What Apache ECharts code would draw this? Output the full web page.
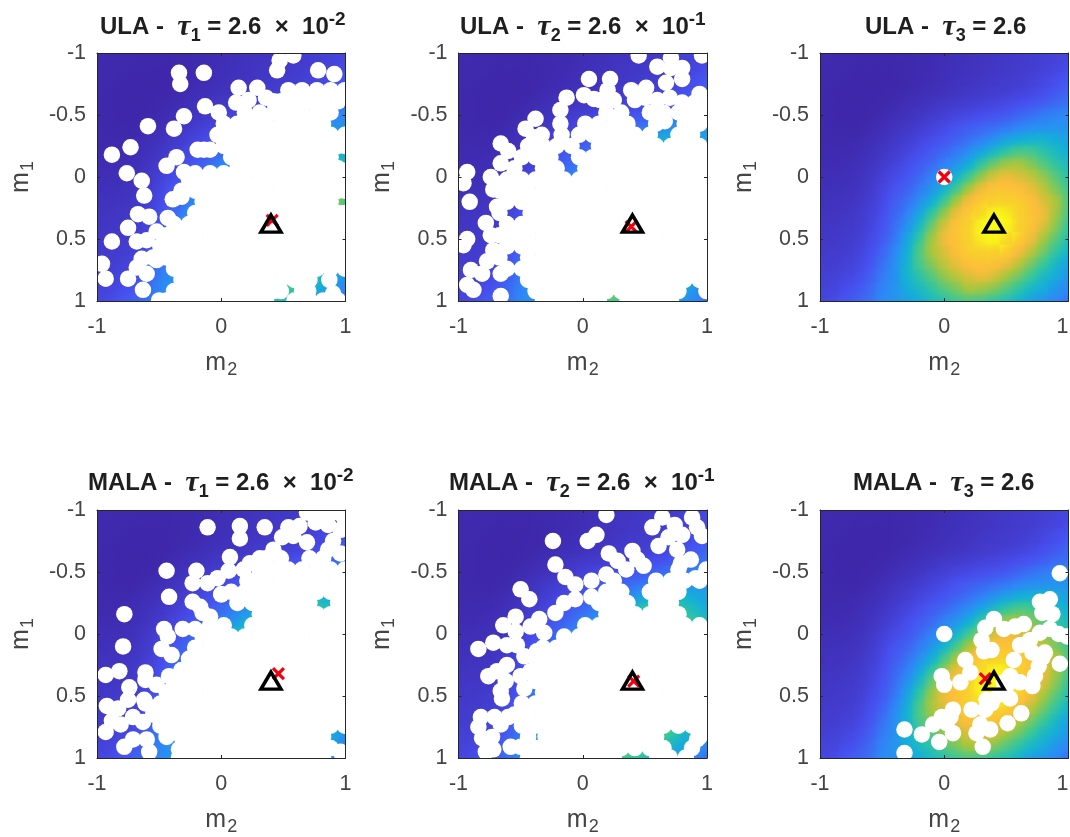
<!DOCTYPE html>
<html><head><meta charset="utf-8">
<style>html,body{margin:0;padding:0;background:#fff}#c{width:1070px;height:837px}</style>
<script src="https://cdn.jsdelivr.net/npm/echarts@6/dist/echarts.min.js"></script>
</head><body><div id="c"></div>
<script>
// density, percent of colour range; rows m1=-1..1, columns m2=-1..1, step 0.1
const densityField=[
[1.5,1.2,1,.8,.7,.7,.8,1,1.3,1.7,2.2,2.8,3.4,4,4.6,5.2,5.8,6.5,7.3,8.2,9.2],
[1.2,1.1,.8,.6,.5,.5,.6,.9,1.3,1.8,2.4,3,3.6,4.2,4.8,5.4,6,6.7,7.6,8.8,10.2],
[1,.8,.6,.4,.3,.3,.5,.9,1.5,2.1,2.7,3.3,4,4.7,5.3,5.9,6.6,7.6,9,10.8,13],
[.8,.6,.4,.3,.2,.3,.7,1.3,2,2.7,3.4,4.1,4.9,5.6,6.3,7,8,9.3,11,13.4,16],
[.7,.5,.3,.2,.3,.7,1.3,2.2,3.1,4,5,5.9,6.9,7.8,8.7,9.9,11.3,13,15.2,17.8,20],
[.7,.5,.3,.3,.7,1.4,2.4,3.4,4.6,5.9,7.4,8.8,10,11.3,12.7,14.4,17,19.6,22,24,25.5],
[.8,.6,.5,.7,1.3,2.4,3.6,5,6.6,8.4,10.4,12.6,14.8,17,19.3,22,25,27.5,28.5,29,29],
[1,.9,.9,1.3,2.2,3.4,5,6.8,8.8,11,13.5,16.5,20,24,29,34,37.5,39,39,36,33],
[1.3,1.3,1.5,2,3.1,4.6,6.6,8.8,11.5,14.5,18,22.5,28,35,42,49,53,52,47,42,37],
[1.7,1.8,2.1,2.7,4,5.9,8.4,11,14.5,18.5,24,30,38,49,59,66,67,62,55,48,42],
[2.2,2.4,2.7,3.4,5,7.4,10.4,13.5,18,24,30,40,52,65,76,80,77,72,64,55,46],
[2.8,3,3.3,4.1,5.9,8.8,12.6,16.5,22.5,30,40,53,68,81,88,88,86,80,71,61,51],
[3.4,3.6,4,4.9,6.9,10,14.8,20,28,38,52,68,83,91,94,94,92,86,77,67,53],
[4,4.2,4.7,5.6,7.8,11.3,17,24,35,49,65,81,91,96,99,98,94,88,80,66,52],
[4.6,4.8,5.3,6.3,8.7,12.7,19.3,29,42,59,76,88,94,99,100,99,94,87,76,62,48],
[5.2,5.4,5.9,7,9.9,14.4,22,34,49,66,80,88,94,98,99,96,92,81,67,55,44],
[5.8,6,6.6,8,11.3,17,25,37.5,53,67,77,86,92,94,94,92,83,71,59,48,39],
[6.5,6.7,7.6,9.3,13,19.6,27.5,39,52,62,72,80,86,88,87,81,71,60,50,41,33],
[7.3,7.6,9,11,15.2,22,28.5,39,47,55,64,71,77,80,76,67,59,50,42,36,29],
[8.2,8.8,10.8,13.4,17.8,24,29,36,42,48,55,61,67,66,62,55,48,41,36,30,25],
[9.2,10.2,13,16,20,25.5,29,33,37,42,46,51,53,52,48,44,39,33,29,25,20]];
const gridTicks=[-1,-0.9,-0.8,-0.7,-0.6,-0.5,-0.4,-0.3,-0.2,-0.1,0,0.1,0.2,0.3,0.4,0.5,0.6,0.7,0.8,0.9,1];

// sample positions in hundredths: each row is [m1, m2, m2, ...]
const ula1Samples=[
[-98,58],[-94,47],[-86,45,78],[-84,-34,-14],[-83,91],[-75,-33],[-72,14,29],[-62,22],[-64,36],[-60,12],[-57,-13],[-52,-2],[-49,-30],[-41,-59],[-39,-38],[-24,-73],[-22,-19,-14,-9],[-18,-88],[-16,-36],[-9,-44],[-4,-30],[-3,-76],[3,-64],[15,-62],[18,-39],[16,-32],
[30,-67],[32,-58],[33,-43],[41,-75],[44,-52],[51,-60],[52,-68,-88],[66,-64],[67,-52],[70,-96],[73,-68],[78,-60],[82,-93,-75],[91,-63],[100,-50],
[-70,100,88,77,65,54],[-61,94,82,71,59,48,42],[-52,88,77,65,54,42,31,19],[-43,82,71,59,48,36,25,13,2],
[-34,100,88,77,65,54,42,31,19,8,-3],[-25,100,94,82,71,59,48,36,25,13,2],[-16,88,77,65,54,42,31,19,8],[-7,94,82,71,59,48,36,25,13],[-5,100],[-3,2,-9,-21],
[2,100,88,77,65,54,42,31,19,8,-3,-15,-26],[11,100,94,82,71,59,48,36,25,13,2,-9,-21,-32],[20,88,77,65,54,42,31,19,8,-3,-15],
[29,100,94,82,71,59,48,36,25,13,2,-9,-21],[38,100,88,77,65,54,42,31,19,8,-3,-15,-26,-38],[47,94,82,71,59,48,36,25,13,2,-9,-21,-32,-44],
[56,100,88,77,65,54,42,31,19,8,-3,-15,-26,-38,-49],[65,94,82,71,59,48,36,25,13,2,-9,-21,-32,-44,-55],[74,100,88,77,65,54,42,31,19,8,-3,-15,-26,-38],
[83,87,71,59,48,36,25,13,2,-9,-21,-32],[94,90],[92,70,65,48,42,31,19,8,-3,-15,-26,-38],[100,94,82,71,59,36,25,13,2,-9,-21,-32,-44]];
const ula2Samples=[
[-98,45,96],[-96,71],[-89,60],[-88,71,80],[-79,80,22,5],[-76,67],[-72,51],[-70,39,20],[-67,94],[-66,1],[-64,-13],[-63,9],[-62,14,25,42,60],[-64,50,70],[-60,80,90,96],[-54,-18],[-47,-38],[-43,-18],[-39,-46],[-34,-17,-33],[-32,-39],[-27,-66],[-21,-60],[-11,-66],[-4,-93],
[0,-74,-56],[5,-96,-64],[10,-72],[20,-91],[24,-69],[37,-78],[47,-74],[50,-93],[55,-96],[59,-72],[68,-77],[75,-90],[78,-81,-66],[87,-93],[91,-88],[96,-66],
[-52,100,88,77,65,54,31,19],[-45,66],[-43,94,82,59,36,25,13,2],[-34,88,77,54,42,31,19,8,-3],[-25,94,82,71,59,48,36,25,13,-9,-21,-32,-44],
[-16,100,88,77,65,54,42,31,19,8,-3,-26,-38,-49],[-7,94,82,71,59,48,36,25,13,2,-21,-32,-55],[2,100,88,77,65,54,42,31,19,8,-3,-15,-26,-38,-49,-61],
[11,94,82,71,59,48,36,25,13,2,-9,-21,-32,-44,-55,-67],[20,100,88,77,65,54,42,31,19,8,-3,-15,-26,-38,-49,-61],[29,94,82,71,59,48,36,25,13,2,-9,-21,-32,-42,-67],
[38,100,88,77,65,54,42,31,19,8,-3,-15,-26,-38,-49,-61],[47,94,82,71,59,48,36,25,13,2,-9,-21,-32,-44,-55,-67],[56,100,88,77,65,54,42,31,19,8,-3,-15,-26,-38,-49,-61],
[65,94,82,71,59,48,36,25,13,2,-9,-21,-32,-44,-67],[74,100,88,77,65,54,42,31,19,8,-3,-15,-26,-38,-49,-61],[83,94,82,71,59,48,36,25,13,2,-9,-21,-32,-44],
[92,100,77,65,54,42,31,19,8,-3,-15,-26,-38],[100,71,59,48,36,13,2,-9,-21,-32]];
const ula3Samples=[[0,0]];
const mala1Samples=[
[-98,69,79,90],[-96,76],[-95,98],[-88,86],[-87,15,63],[-86,-11,35,54],[-90,76],[-84,96],[-79,58],[-78,49],[-77,15],[-75,90],[-74,69],[-68,42,86],[-65,96],[-62,7],[-61,31],[-57,23],[-52,18],[-51,-44,-20,6],[-45,-3],[-41,-23,-11],[-32,0],[-30,-42],[-26,-23],[-22,-17],[-17,-15],[-16,-78],[-14,-9],[-4,-46,-31,-21],[2,-43],[10,-79],[12,-48],[17,-40],
[30,-82],[31,-61],[33,-93],[34,-42],[37,-61],[41,-52],[43,-74],[53,-75,-62],[58,-92],[60,-83],[67,-71],[70,-88],[71,-63],[73,-81],[79,-93],[83,-44],[85,-71,-60],[91,-78],[93,-34,-20],[95,-58,96],
[-61,82,71,48,36],[-52,100,88,77,65,54,42,31],[-43,94,82,71,59,48,36,25,21],[-34,100,88,77,65,54,42,31,19,8],[-32,0],[-25,94,71,59,48,36,25,13],[-16,100,88,77,65,54,42,31],
[-7,94,82,71,59,48,36,25,2,-9],[2,100,88,77,65,54,42,31,19,8,-3,-15],[11,94,82,71,59,48,36,25,13,2,-9,-21],[20,100,88,77,65,54,42,31,19,8,-3,-15,-26],[29,94,82,71,59,48,36,25,13,2,-9,-21,-32],
[38,100,88,77,65,54,42,31,19,8,-3,-15,-26,-38],[47,94,82,71,59,48,36,25,13,2,-9,-21,-32,-44],[56,100,88,77,65,54,42,31,19,8,-3,-15,-26,-38,-49,-61],[65,94,82,71,59,48,36,25,13,2,-9,-21,-32,-44,-55],
[74,100,88,77,65,54,42,31,19,8,-3,-15,-26,-38,-49],[83,82,71,59,48,36,25,13,2,-9,-21,-32],[92,88,77,65,54,42,31,19,8,-3,-15,-27],[100,82,71,59,48,36,25,13,2,-9,-21,-34]];
const mala2Samples=[
[-96,19],[-94,64,88],[-88,74],[-86,56,92],[-80,11,80],[-79,96],[-78,69],[-75,-24,4],[-71,61],[-68,76],[-67,40],[-65,21],[-60,44,87],[-59,28],[-57,79],[-56,-22],[-55,49],[-52,35],[-48,19],[-46,-14],[-45,91],[-43,7],[-40,-6],[-36,-50],[-30,7],[-28,-43,-6],[-25,-15],[-17,-22],[-14,-54],[-12,-35],[-7,-64],[-6,-42],[-2,-54],[-1,-31],[7,-72],[9,-61],[9,-53],[12,-84],[14,-37],[18,-47],
[25,-61],[30,-69,-42],[34,-76,-50],[38,-62],[44,-47],[46,-66],[52,-65],[67,-82,-71,-60],[73,-66],[75,-84],[83,-73],[84,-81],[85,92],[91,-58,-50],[93,-72],[95,-78],
[-52,100,77],[-43,94,82,71,59,25],[-34,77,65,54,31,19],[-25,71,59,36,25,13],[-16,77,65,54,42,31,19],[-7,94,82,71,59,48,36,25,13,2],
[2,100,88,77,65,54,42,31,19,8,-3,-15],[11,94,82,71,59,48,36,25,13,2,-9,-21,-32],[20,100,88,77,65,54,42,31,19,8,-3,-15,-26,-38],[29,94,82,71,59,48,36,25,13,2,-9,-21,-32],
[38,100,88,77,65,54,42,31,19,8,-3,-15,-26,-38],[47,94,82,71,59,48,36,25,13,2,-9,-21,-32],[56,100,88,77,65,54,42,31,19,8,-3,-15,-26,-38,-49],[65,94,82,71,59,48,36,25,13,2,-9,-21,-32,-44,-55],
[74,100,88,77,65,54,42,31,19,8,-3,-15,-26,-38,-49],[83,94,59,48,36,25,13,2,-9,-21,-30,-44],[92,88,65,54,42,31,19,8,-3,-15,-26,-38],[100,83,70,60,25,13,2,-9,-21,-32,-44]];
const mala3Samples=[
[-49,93],[-28,85],[-26,77],[-17,79],[-16,87],[-12,40],[-6,57],[-8,64],[-5,33],[-4,48],[-4,85],[-1,77],[0,0,92],[2,99],[5,30,69],[9,61],[13,38],[14,32],[15,71,81],[19,79],[21,17,56],[24,93],[26,76],[31,21],[34,-2,53,73],[39,13,48,61],[41,0],[42,50,71],[49,44],[52,53],[53,34],[56,38],[61,33,22,7],[64,62],[67,-2,5],[72,2,51],[73,29,-9],[77,37,-32],[80,26,7],[81,-18],[87,-4],[91,31],[96,-32]];

const trueParams=[0.4,0.4];
const chainEnds=[[0.41,0.35],[0.39,0.4],[0,0],[0.46,0.32],[0.41,0.38],[0.33,0.36]];
const panelSamples=[ula1Samples,ula2Samples,ula3Samples,mala1Samples,mala2Samples,mala3Samples];
const panelMethods=['ULA','ULA','ULA','MALA','MALA','MALA'];
const panelTaus=['1','2','3','1','2','3'];
const panelSteps=['2.6  ×  10','2.6  ×  10','2.6','2.6  ×  10','2.6  ×  10','2.6'];
const panelExps=['-2','-1','','-2','-1',''];
const xTickStep=1, yTickStep=0.5;

const gridLefts=[97,458.5,820,97,458.5,820];
const gridTops=[53,53,53,510,510,510];
const titleLefts=[95,455,860,83,444,848];
const titleTops=[4,4,4,460,460,460];
const plotW=248.5, plotH=248;
const ramp=[[0,62,38,168],[.12,71,80,240],[.25,46,135,247],[.38,18,177,214],[.5,55,200,151],[.68,171,199,57],[.84,253,187,60],[.95,247,210,42],[1,249,251,21]];
function rampColor(v){
  const t=Math.max(0,Math.min(1,v/100));
  for(let i=1;i<ramp.length;i++){
    if(t<=ramp[i][0]){
      const a=ramp[i-1],b=ramp[i],k=(t-a[0])/(b[0]-a[0]);
      return 'rgb('+[1,2,3].map(j=>Math.round(a[j]+(b[j]-a[j])*k)).join(',')+')';
    }
  }
  return 'rgb(249,251,21)';
}
const fieldData=[];
densityField.forEach((row,r)=>row.forEach((v,c)=>fieldData.push([gridTicks[c],gridTicks[r],v,c,r])));
const n=gridTicks.length;
function shadeCell(params,api){
  const c=api.value(3),r=api.value(4),v=api.value(2);
  const f=(rr,cc)=>densityField[Math.max(0,Math.min(n-1,rr))][Math.max(0,Math.min(n-1,cc))];
  const gx=(f(r,c+1)-f(r,c-1))/((c>0&&c<n-1)?2:1), gy=(f(r+1,c)-f(r-1,c))/((r>0&&r<n-1)?2:1);
  const len=Math.hypot(gx,gy);
  const a=api.coord([api.value(0)-0.05,api.value(1)-0.05]), b=api.coord([api.value(0)+0.05,api.value(1)+0.05]);
  let fill=rampColor(v);
  if(len>0){
    const nx=gx/len,ny=gy/len,e=(Math.abs(nx)+Math.abs(ny))/2;
    fill=new echarts.graphic.LinearGradient(.5-nx*e,.5-ny*e,.5+nx*e,.5+ny*e,[
      {offset:0,color:rampColor(v-len*e)},{offset:.5,color:rampColor(v)},{offset:1,color:rampColor(v+len*e)}]);
  }
  return {type:'rect',shape:{x:a[0]-.6,y:a[1]-.6,width:b[0]-a[0]+1.2,height:b[1]-a[1]+1.2},style:{fill:fill}};
}
const inkAxis='#262626', inkText='#444';
const baseAxis={min:-1,max:1,z:10,splitLine:{show:false},
  axisLine:{show:true,onZero:false,lineStyle:{color:inkAxis,width:1}},
  axisTick:{show:true,inside:true,length:3,lineStyle:{color:inkAxis,width:1}}};
const tickFont={color:inkText,fontFamily:'Liberation Sans',fontSize:21.5};
const nameRich={m:{fontSize:25,color:inkText,fontFamily:'Liberation Sans'},s:{fontSize:18,color:inkText,fontFamily:'Liberation Sans',padding:[14,0,0,1]}};
const titleRich={
  b:{fontSize:24,fontWeight:'bold',color:'#1f1f1f',fontFamily:'Liberation Sans'},
  t:{fontSize:30,fontWeight:'bold',fontStyle:'italic',color:'#1f1f1f',fontFamily:'Liberation Serif'},
  s:{fontSize:18,fontWeight:'bold',color:'#1f1f1f',fontFamily:'Liberation Sans',padding:[18,0,0,0]},
  u:{fontSize:19,fontWeight:'bold',color:'#1f1f1f',fontFamily:'Liberation Sans',padding:[0,0,14,0]}};
const clampEdge=v=>Math.max(-0.995,Math.min(0.995,v/100));
const grids=[],xAxes=[],yAxes=[],series=[],titles=[];
panelSamples.forEach((rows,i)=>{
  grids.push({left:gridLefts[i],top:gridTops[i],width:plotW,height:plotH,outerBoundsMode:'none'});
  xAxes.push({...baseAxis,type:'value',gridIndex:i,interval:xTickStep,position:'bottom',
    axisLabel:{...tickFont,margin:15,alignMaxLabel:(i%3===2)?'right':null},name:'{m|m}{s|'+'2}',nameLocation:'middle',nameGap:46,nameTextStyle:{rich:nameRich}});
  xAxes.push({...baseAxis,type:'value',gridIndex:i,interval:xTickStep,position:'top',axisLabel:{show:false}});
  yAxes.push({...baseAxis,type:'value',gridIndex:i,inverse:true,interval:yTickStep,position:'left',
    axisLabel:{...tickFont,margin:11},name:'{m|m}{s|'+'1}',nameLocation:'middle',nameGap:60,nameRotate:90,nameTextStyle:{rich:nameRich}});
  yAxes.push({...baseAxis,type:'value',gridIndex:i,inverse:true,interval:yTickStep,position:'right',axisLabel:{show:false}});
  const ax={xAxisIndex:2*i,yAxisIndex:2*i};
  series.push({type:'custom',...ax,clip:true,silent:true,z:1,data:fieldData,encode:{x:0,y:1},renderItem:shadeCell});
  const pts=[];rows.forEach(r=>r.slice(1).forEach(x=>pts.push([clampEdge(x),clampEdge(r[0])])));
  series.push({type:'scatter',...ax,z:2,clip:true,silent:true,symbol:'circle',symbolSize:16.5,data:pts,itemStyle:{color:'#fff',opacity:1}});
  series.push({type:'scatter',...ax,z:3,clip:true,silent:true,symbol:'path://M0 0L10 10M10 0L0 10',symbolSize:11,data:[chainEnds[i]],
    itemStyle:{color:'none',borderColor:'#f2000f',borderWidth:3.2,opacity:1}});
  series.push({type:'scatter',...ax,z:4,clip:false,silent:true,symbol:'triangle',symbolSize:[20,17],symbolOffset:[0,-3],data:[trueParams],
    itemStyle:{color:'rgba(0,0,0,0)',borderColor:'#000',borderWidth:3.5,borderJoin:'miter',opacity:1}});
  const exp=panelExps[i]?'{u|'+panelExps[i]+'}':'';
  titles.push({left:titleLefts[i],top:titleTops[i],
    text:'{b|'+panelMethods[i]+' -  }{t|τ}{s|'+panelTaus[i]+'}{b| = '+panelSteps[i]+'}'+exp,textStyle:{rich:titleRich}});
});
const chart=echarts.init(document.getElementById('c'),null,{renderer:'canvas'});
chart.setOption({animation:false,backgroundColor:'#fff',title:titles,grid:grids,xAxis:xAxes,yAxis:yAxes,series:series});
</script></body></html>
